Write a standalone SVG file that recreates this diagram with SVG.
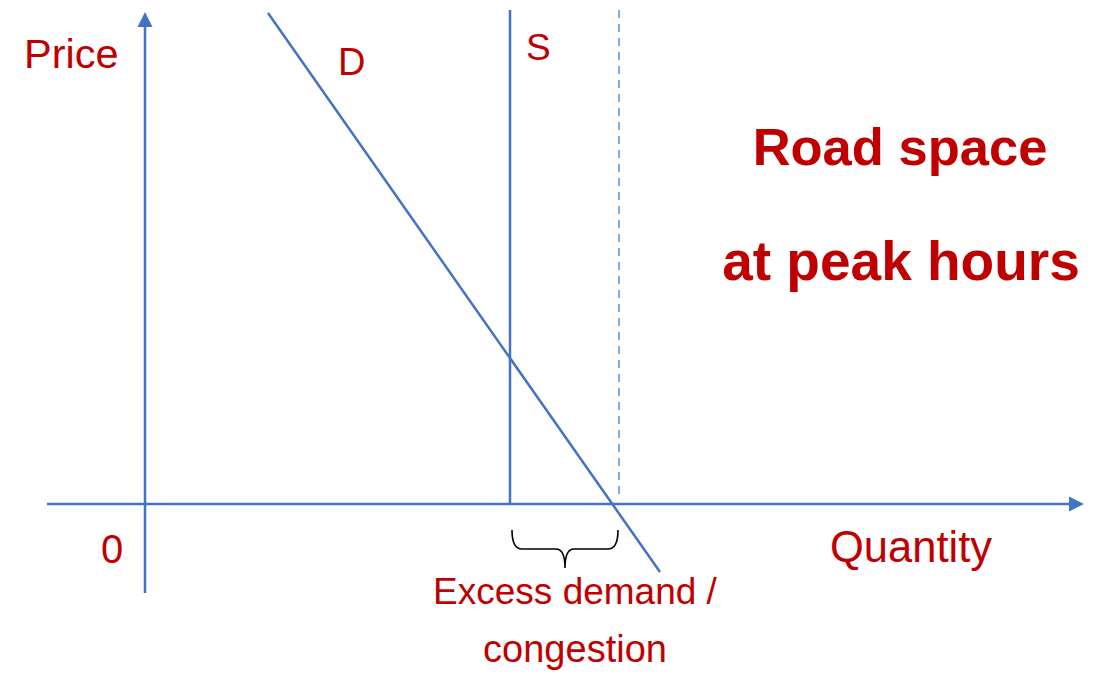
<svg xmlns="http://www.w3.org/2000/svg" width="1107" height="675" viewBox="0 0 1107 675">
  <style>
    .ax { stroke: #4472C4; stroke-width: 2.5; fill: none; }
    .ln { stroke: #4472C4; stroke-width: 2.5; fill: none; }
    .dash { stroke: #5B9BD5; stroke-width: 1.6; stroke-dasharray: 8 6; fill: none; }
    .brace { stroke: #000; stroke-width: 1.6; fill: none; }
    .t { font-family: "Liberation Sans", Arial, sans-serif; fill: #C00000; }
    .b { font-family: "Liberation Sans", Arial, sans-serif; fill: #C00000; font-weight: bold; }
  </style>
  <defs>
    <marker id="arr" markerUnits="userSpaceOnUse" markerWidth="16" markerHeight="16" refX="0" refY="7.5" orient="auto" viewBox="0 0 16 15">
      <path d="M0,0 L15,7.5 L0,15 z" fill="#4472C4"/>
    </marker>
  </defs>
  <g id="connectors">
    <line id="y-axis" class="ax" x1="145" y1="593" x2="145" y2="27" marker-end="url(#arr)"/>
    <line id="x-axis" class="ax" x1="47" y1="504" x2="1069" y2="504" marker-end="url(#arr)"/>
    <line id="demand" class="ln" x1="268" y1="13" x2="660" y2="572"/>
    <line id="supply" class="ln" x1="510" y1="10" x2="510" y2="504"/>
    <line id="supply-dashed" class="dash" x1="619" y1="10" x2="619" y2="494"/>
    <path id="brace" class="brace" d="M512,530 Q512,549 522,549 L556,549 Q565,549 565,568 Q565,549 574,549 L608,549 Q618,549 618,530"/>
  </g>
  <g id="label-price"><text class="t" x="24" y="68" font-size="41.5">Price</text></g>
  <g id="label-d"><text class="t" x="338" y="75" font-size="38">D</text></g>
  <g id="label-s"><text class="t" x="526" y="60" font-size="37">S</text></g>
  <g id="label-0"><text class="t" x="101" y="563" font-size="40">0</text></g>
  <g id="label-quantity"><text class="t" x="830" y="562" font-size="43.5">Quantity</text></g>
  <g id="label-excess">
    <text class="t" x="575" y="604" font-size="37" text-anchor="middle">Excess demand /</text>
    <text class="t" x="575" y="662" font-size="38" text-anchor="middle">congestion</text>
  </g>
  <g id="title">
    <text class="b" x="900" y="165" font-size="52.5" text-anchor="middle">Road space</text>
    <text class="b" x="901" y="280" font-size="55" text-anchor="middle">at peak hours</text>
  </g>
</svg>
